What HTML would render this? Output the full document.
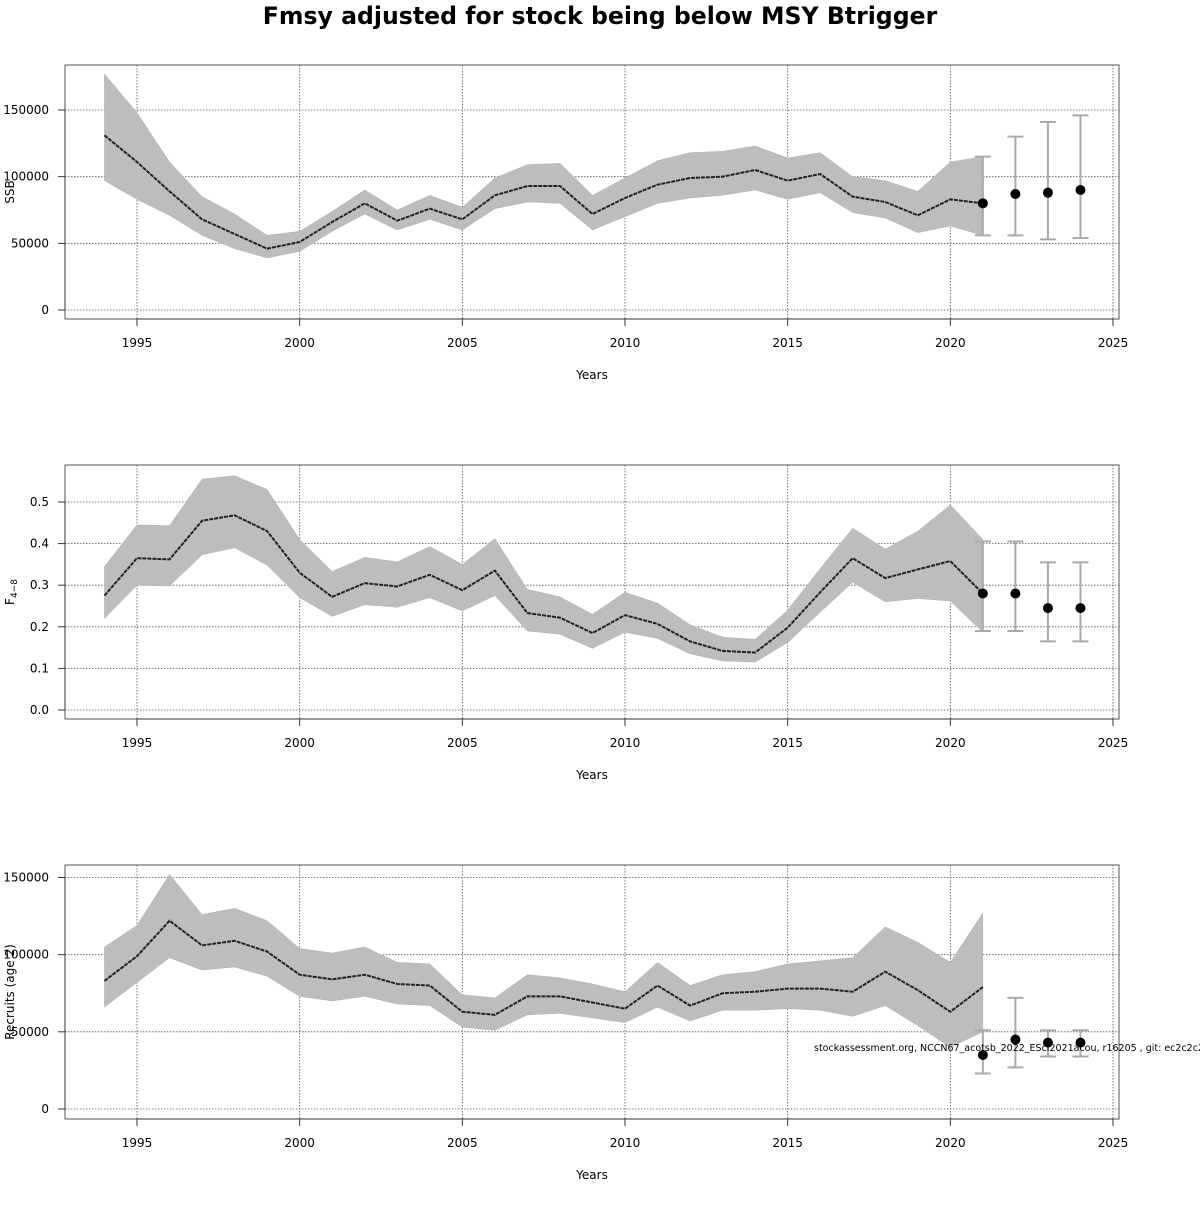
<!DOCTYPE html>
<html><head><meta charset="utf-8">
<style>
html,body{margin:0;padding:0;background:#fff;overflow:hidden}
svg text{font-family:"DejaVu Sans","Liberation Sans",sans-serif}
</style></head>
<body>
<svg id="chart" width="1200" height="1200" viewBox="0 0 1200 1200" xmlns="http://www.w3.org/2000/svg">
<text x="600" y="24" text-anchor="middle" font-size="23.6" font-weight="bold">Fmsy adjusted for stock being below MSY Btrigger</text>
</svg>
<script>
const years = [1994,1995,1996,1997,1998,1999,2000,2001,2002,2003,2004,2005,2006,2007,2008,2009,2010,2011,2012,2013,2014,2015,2016,2017,2018,2019,2020,2021];
const ssbMid = [131000,111000,89000,68000,57000,46000,51000,66000,80000,67000,76000,68000,86000,93000,93000,72000,84000,94000,99000,100000,105000,97000,102000,85000,81000,71000,83000,80000];
const ssbHi = [177000,148000,111000,85000,72000,56000,59000,74000,90000,75000,86000,77000,99000,109000,110000,86000,99000,112000,118000,119000,123000,114000,118000,100000,97000,89000,111000,115000];
const ssbLo = [97000,83000,71000,56000,46000,39000,44000,59000,72000,60000,68000,60000,76000,81000,80000,60000,70000,80000,84000,86000,90000,83000,88000,73000,69000,58000,63000,56000];
const fMid = [0.275,0.365,0.362,0.455,0.468,0.43,0.33,0.272,0.305,0.297,0.325,0.288,0.335,0.233,0.222,0.185,0.228,0.207,0.165,0.142,0.138,0.198,0.283,0.365,0.317,0.338,0.358,0.28];
const fHi = [0.345,0.445,0.443,0.555,0.563,0.53,0.41,0.333,0.367,0.356,0.393,0.35,0.412,0.29,0.272,0.23,0.283,0.257,0.205,0.175,0.17,0.24,0.34,0.437,0.387,0.43,0.493,0.41];
const fLo = [0.22,0.3,0.298,0.373,0.39,0.348,0.27,0.225,0.253,0.247,0.27,0.238,0.275,0.19,0.182,0.148,0.187,0.172,0.135,0.118,0.115,0.162,0.235,0.307,0.26,0.268,0.262,0.187];
const recMid = [83000,99000,122000,106000,109000,102000,87000,84000,87000,81000,80000,63000,61000,73000,73000,69000,65000,80000,67000,75000,76000,78000,78000,76000,89000,77000,63000,79000];
const recHi = [105000,119000,152000,126000,130000,122000,104000,101000,105000,95000,94000,74000,72000,87000,85000,81000,76000,95000,80000,87000,89000,94000,96000,98000,118000,108000,95000,127000];
const recLo = [66000,82000,98000,90000,92000,86000,73000,70000,73000,68000,67000,53000,51000,61000,62000,59000,56000,66000,57000,64000,64000,65000,64000,60000,67000,54000,40000,50000];
const fcYears = [2021,2022,2023,2024];
const ssbFc = [80000,87000,88000,90000];
const ssbFcLo = [56000,56000,53000,54000];
const ssbFcHi = [115000,130000,141000,146000];
const fFc = [0.28,0.28,0.245,0.245];
const fFcLo = [0.19,0.19,0.165,0.165];
const fFcHi = [0.405,0.405,0.355,0.355];
const recFc = [35000,45000,43000,43000];
const recFcLo = [23000,27000,34000,34000];
const recFcHi = [51000,72000,51000,51000];
const xTicks = [1995,2000,2005,2010,2015,2020,2025];
const ssbTicks = [0,50000,100000,150000];
const fTicks = [0.0,0.1,0.2,0.3,0.4,0.5];
const recTicks = [0,50000,100000,150000];

const NS="http://www.w3.org/2000/svg";
const svg=document.getElementById('chart');
function mk(tag,attrs,parent){const e=document.createElementNS(NS,tag);for(const k in attrs)e.setAttribute(k,attrs[k]);(parent||svg).appendChild(e);return e;}
const xS = y => 137 + (y-1995)*(1113-137)/30;

function panel(name, top, y0px, yTopPx, yTopVal, ticks, tickFmt, mid, hi, lo, fc, fcLo, fcHi, ylabel) {
  const g=mk('g',{});
  
  
  const yS = v => y0px - v/yTopVal*(y0px-yTopPx);
  const L=65,R=1119,T=top,B=top+254;
  xTicks.forEach(t=>{const l=mk('line',{x1:xS(t),x2:xS(t),y1:T,y2:B,stroke:'#555','stroke-width':0.8,'stroke-dasharray':'1.5,1.5'},g);
     });
  ticks.forEach(t=>{const l=mk('line',{x1:L,x2:R,y1:yS(t),y2:yS(t),stroke:'#555','stroke-width':0.8,'stroke-dasharray':'1.5,1.5'},g);
     });
  let pts=years.map((y,i)=>xS(y)+','+yS(hi[i])).concat(years.map((y,i)=>xS(y)+','+yS(lo[i])).reverse());
  const band=mk('polygon',{points:pts.join(' '),fill:'#bdbdbd',stroke:'#b0b0b0','stroke-width':0.5},g);
  
  
  const line=mk('polyline',{points:years.map((y,i)=>xS(y)+','+yS(mid[i])).join(' '),fill:'none',stroke:'#222','stroke-width':2,'stroke-dasharray':'4,1'},g);
  
  
  fcYears.forEach((y,i)=>{
    const x=xS(y);
    const eb=mk('g',{stroke:'#aaa','stroke-width':2},g);
    
    
    mk('line',{x1:x,x2:x,y1:yS(fcLo[i]),y2:yS(fcHi[i])},eb);
    mk('line',{x1:x-8,x2:x+8,y1:yS(fcLo[i]),y2:yS(fcLo[i])},eb);
    mk('line',{x1:x-8,x2:x+8,y1:yS(fcHi[i]),y2:yS(fcHi[i])},eb);
    const c=mk('circle',{cx:x,cy:yS(fc[i]),r:5,fill:'#000'},g);
    
    
  });
  const box=mk('rect',{x:L,y:T,width:R-L,height:B-T,fill:'none',stroke:'#555','stroke-width':1},g);
  
  
  mk('line',{x1:xS(1995),x2:xS(2025),y1:B,y2:B,stroke:'#333'},g);
  xTicks.forEach(t=>{mk('line',{x1:xS(t),x2:xS(t),y1:B,y2:B+7,stroke:'#333'},g);
    const tx=mk('text',{x:xS(t),y:B+28,'text-anchor':'middle','font-size':12},g);
    tx.textContent=t;
     });
  mk('line',{x1:L,x2:L,y1:yS(ticks[0]),y2:yS(ticks[ticks.length-1]),stroke:'#333'},g);
  ticks.forEach(t=>{mk('line',{x1:L-7,x2:L,y1:yS(t),y2:yS(t),stroke:'#333'},g);
    const tx=mk('text',{x:49,y:yS(t)+4,'text-anchor':'end','font-size':12},g);
    tx.textContent=tickFmt(t);
     });
  const xl=mk('text',{x:592,y:B+60,'text-anchor':'middle','font-size':12},g);
  xl.textContent='Years';
   
  const yl=mk('text',{x:0,y:0,'text-anchor':'middle','font-size':12,transform:'translate(14,'+(T+127)+') rotate(-90)'},g);
  if(ylabel==='F'){yl.innerHTML='F<tspan font-size="9" dy="3">4−8</tspan>';}
  else yl.textContent=ylabel;
   
}
panel('ssb',65,310,110,150000,ssbTicks,t=>String(t),ssbMid,ssbHi,ssbLo,ssbFc,ssbFcLo,ssbFcHi,'SSB');
panel('fishing-mortality',465,710,502,0.5,fTicks,t=>t.toFixed(1),fMid,fHi,fLo,fFc,fFcLo,fFcHi,'F');
panel('recruits',865,1109,877.5,150000,recTicks,t=>String(t),recMid,recHi,recLo,recFc,recFcLo,recFcHi,'Recruits (age 2)');
const ft=mk('text',{x:814,y:1051,'font-size':9.5});
ft.textContent='stockassessment.org, NCCN67_acotsb_2022_EScl2021acou, r16205 , git: ec2c2c2';


</script>
</body></html>
